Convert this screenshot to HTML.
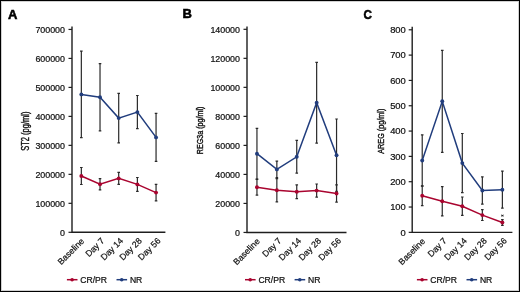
<!DOCTYPE html>
<html><head><meta charset="utf-8"><style>
html,body{margin:0;padding:0;background:#fff;}
body{width:520px;height:292px;overflow:hidden;}
svg{display:block;font-family:"Liberation Sans", sans-serif;will-change:transform;}
.t{fill:#111;stroke:#111;stroke-width:0.22px;}
</style></head><body>
<svg width="520" height="292" viewBox="0 0 520 292">
<rect x="0" y="0" width="520" height="292" fill="#fff"/>
<text x="7.9" y="18.6" font-size="13.0" font-weight="bold" fill="#000" stroke="#000" stroke-width="0.55">A</text>
<path d="M72 26.5V232.3H165.4" fill="none" stroke="#1e1e1e" stroke-width="1.4"/>
<path d="M68.5 232.3H72" stroke="#1e1e1e" stroke-width="1.2"/>
<text x="65" y="235.65" font-size="8.9" text-anchor="end" class="t">0</text>
<path d="M68.5 203.32H72" stroke="#1e1e1e" stroke-width="1.2"/>
<text x="65" y="206.67" font-size="8.9" text-anchor="end" class="t">100000</text>
<path d="M68.5 174.34H72" stroke="#1e1e1e" stroke-width="1.2"/>
<text x="65" y="177.69" font-size="8.9" text-anchor="end" class="t">200000</text>
<path d="M68.5 145.36H72" stroke="#1e1e1e" stroke-width="1.2"/>
<text x="65" y="148.71" font-size="8.9" text-anchor="end" class="t">300000</text>
<path d="M68.5 116.38H72" stroke="#1e1e1e" stroke-width="1.2"/>
<text x="65" y="119.73" font-size="8.9" text-anchor="end" class="t">400000</text>
<path d="M68.5 87.4H72" stroke="#1e1e1e" stroke-width="1.2"/>
<text x="65" y="90.75" font-size="8.9" text-anchor="end" class="t">500000</text>
<path d="M68.5 58.42H72" stroke="#1e1e1e" stroke-width="1.2"/>
<text x="65" y="61.77" font-size="8.9" text-anchor="end" class="t">600000</text>
<path d="M68.5 29.44H72" stroke="#1e1e1e" stroke-width="1.2"/>
<text x="65" y="32.79" font-size="8.9" text-anchor="end" class="t">700000</text>
<text transform="translate(29,150.8) rotate(-90)" font-size="10.0" font-weight="normal" stroke="#111" stroke-width="0.38" fill="#111" textLength="39.2" lengthAdjust="spacingAndGlyphs">ST2 (pg/ml)</text>
<text transform="translate(84.74,241.78) rotate(-45)" font-size="8.7" text-anchor="end" class="t">Baseline</text>
<text transform="translate(105.02,241.3) rotate(-45)" font-size="8.7" text-anchor="end" class="t">Day 7</text>
<text transform="translate(123.7,241.3) rotate(-45)" font-size="8.7" text-anchor="end" class="t">Day 14</text>
<text transform="translate(142.38,241.3) rotate(-45)" font-size="8.7" text-anchor="end" class="t">Day 28</text>
<text transform="translate(161.06,241.3) rotate(-45)" font-size="8.7" text-anchor="end" class="t">Day 56</text>
<path d="M81.34 51.1V137.7M80.04 51.1H82.64M80.04 137.7H82.64" stroke="#2a2a2a" stroke-width="1.2" fill="none"/>
<path d="M100.02 63.6V130.8M98.72 63.6H101.32M98.72 130.8H101.32" stroke="#2a2a2a" stroke-width="1.2" fill="none"/>
<path d="M118.7 93.4V142.8M117.4 93.4H120M117.4 142.8H120" stroke="#2a2a2a" stroke-width="1.2" fill="none"/>
<path d="M137.38 95.5V128.7M136.08 95.5H138.68M136.08 128.7H138.68" stroke="#2a2a2a" stroke-width="1.2" fill="none"/>
<path d="M156.06 113.4V161.4M154.76 113.4H157.36M154.76 161.4H157.36" stroke="#2a2a2a" stroke-width="1.2" fill="none"/>
<path d="M81.34 167.5V184.5M80.04 167.5H82.64M80.04 184.5H82.64" stroke="#2a2a2a" stroke-width="1.2" fill="none"/>
<path d="M100.02 178.7V189.9M98.72 178.7H101.32M98.72 189.9H101.32" stroke="#2a2a2a" stroke-width="1.2" fill="none"/>
<path d="M118.7 172.4V184.4M117.4 172.4H120M117.4 184.4H120" stroke="#2a2a2a" stroke-width="1.2" fill="none"/>
<path d="M137.38 177.5V191.3M136.08 177.5H138.68M136.08 191.3H138.68" stroke="#2a2a2a" stroke-width="1.2" fill="none"/>
<path d="M156.06 184.3V200.9M154.76 184.3H157.36M154.76 200.9H157.36" stroke="#2a2a2a" stroke-width="1.2" fill="none"/>
<polyline points="81.34,94.4 100.02,97.2 118.7,118.1 137.38,112.1 156.06,137.4" fill="none" stroke="#213d7d" stroke-width="1.5"/>
<circle cx="81.34" cy="94.4" r="1.95" fill="#213d7d"/>
<circle cx="100.02" cy="97.2" r="1.95" fill="#213d7d"/>
<circle cx="118.7" cy="118.1" r="1.95" fill="#213d7d"/>
<circle cx="137.38" cy="112.1" r="1.95" fill="#213d7d"/>
<circle cx="156.06" cy="137.4" r="1.95" fill="#213d7d"/>
<polyline points="81.34,176 100.02,184.3 118.7,178.4 137.38,184.4 156.06,192.6" fill="none" stroke="#a9042f" stroke-width="1.5"/>
<circle cx="81.34" cy="176" r="1.95" fill="#a9042f"/>
<circle cx="100.02" cy="184.3" r="1.95" fill="#a9042f"/>
<circle cx="118.7" cy="178.4" r="1.95" fill="#a9042f"/>
<circle cx="137.38" cy="184.4" r="1.95" fill="#a9042f"/>
<circle cx="156.06" cy="192.6" r="1.95" fill="#a9042f"/>
<path d="M66.9 279.7H77.5" stroke="#a9042f" stroke-width="1.5"/><circle cx="72.1" cy="279.7" r="1.8" fill="#a9042f"/>
<text x="80.3" y="282.9" font-size="8.6" class="t">CR/PR</text>
<path d="M116.5 279.7H127.1" stroke="#213d7d" stroke-width="1.5"/><circle cx="121.7" cy="279.7" r="1.8" fill="#213d7d"/>
<text x="129.9" y="282.9" font-size="8.6" class="t">NR</text>
<text x="182.4" y="18.3" font-size="13.0" font-weight="bold" fill="#000" stroke="#000" stroke-width="0.55">B</text>
<path d="M247 26.5V232.45H346.5" fill="none" stroke="#1e1e1e" stroke-width="1.4"/>
<path d="M243.5 232.45H247" stroke="#1e1e1e" stroke-width="1.2"/>
<text x="240" y="235.8" font-size="8.9" text-anchor="end" class="t">0</text>
<path d="M243.5 203.43H247" stroke="#1e1e1e" stroke-width="1.2"/>
<text x="240" y="206.78" font-size="8.9" text-anchor="end" class="t">20000</text>
<path d="M243.5 174.41H247" stroke="#1e1e1e" stroke-width="1.2"/>
<text x="240" y="177.76" font-size="8.9" text-anchor="end" class="t">40000</text>
<path d="M243.5 145.39H247" stroke="#1e1e1e" stroke-width="1.2"/>
<text x="240" y="148.74" font-size="8.9" text-anchor="end" class="t">60000</text>
<path d="M243.5 116.37H247" stroke="#1e1e1e" stroke-width="1.2"/>
<text x="240" y="119.72" font-size="8.9" text-anchor="end" class="t">80000</text>
<path d="M243.5 87.35H247" stroke="#1e1e1e" stroke-width="1.2"/>
<text x="240" y="90.7" font-size="8.9" text-anchor="end" class="t">100000</text>
<path d="M243.5 58.33H247" stroke="#1e1e1e" stroke-width="1.2"/>
<text x="240" y="61.68" font-size="8.9" text-anchor="end" class="t">120000</text>
<path d="M243.5 29.31H247" stroke="#1e1e1e" stroke-width="1.2"/>
<text x="240" y="32.66" font-size="8.9" text-anchor="end" class="t">140000</text>
<text transform="translate(203,154.3) rotate(-90)" font-size="8.8" font-weight="normal" stroke="#111" stroke-width="0.38" fill="#111" textLength="47.8" lengthAdjust="spacingAndGlyphs">REG3a (pg/ml)</text>
<text transform="translate(260.35,241.93) rotate(-45)" font-size="8.7" text-anchor="end" class="t">Baseline</text>
<text transform="translate(281.85,241.45) rotate(-45)" font-size="8.7" text-anchor="end" class="t">Day 7</text>
<text transform="translate(301.75,241.45) rotate(-45)" font-size="8.7" text-anchor="end" class="t">Day 14</text>
<text transform="translate(321.65,241.45) rotate(-45)" font-size="8.7" text-anchor="end" class="t">Day 28</text>
<text transform="translate(341.55,241.45) rotate(-45)" font-size="8.7" text-anchor="end" class="t">Day 56</text>
<path d="M256.95 128.4V179M255.65 128.4H258.25M255.65 179H258.25" stroke="#2a2a2a" stroke-width="1.2" fill="none"/>
<path d="M276.85 161.1V177.7M275.55 161.1H278.15M275.55 177.7H278.15" stroke="#2a2a2a" stroke-width="1.2" fill="none"/>
<path d="M296.75 140.4V173.2M295.45 140.4H298.05M295.45 173.2H298.05" stroke="#2a2a2a" stroke-width="1.2" fill="none"/>
<path d="M316.65 62.3V143.1M315.35 62.3H317.95M315.35 143.1H317.95" stroke="#2a2a2a" stroke-width="1.2" fill="none"/>
<path d="M336.55 119V191.4M335.25 119H337.85M335.25 191.4H337.85" stroke="#2a2a2a" stroke-width="1.2" fill="none"/>
<path d="M256.95 179.3V195.1M255.65 179.3H258.25M255.65 195.1H258.25" stroke="#2a2a2a" stroke-width="1.2" fill="none"/>
<path d="M276.85 178.7V201.9M275.55 178.7H278.15M275.55 201.9H278.15" stroke="#2a2a2a" stroke-width="1.2" fill="none"/>
<path d="M296.75 184.9V198.7M295.45 184.9H298.05M295.45 198.7H298.05" stroke="#2a2a2a" stroke-width="1.2" fill="none"/>
<path d="M316.65 184V197.2M315.35 184H317.95M315.35 197.2H317.95" stroke="#2a2a2a" stroke-width="1.2" fill="none"/>
<path d="M336.55 184.8V202.2M335.25 184.8H337.85M335.25 202.2H337.85" stroke="#2a2a2a" stroke-width="1.2" fill="none"/>
<polyline points="256.95,153.7 276.85,169.4 296.75,156.8 316.65,102.7 336.55,155.2" fill="none" stroke="#213d7d" stroke-width="1.5"/>
<circle cx="256.95" cy="153.7" r="1.95" fill="#213d7d"/>
<circle cx="276.85" cy="169.4" r="1.95" fill="#213d7d"/>
<circle cx="296.75" cy="156.8" r="1.95" fill="#213d7d"/>
<circle cx="316.65" cy="102.7" r="1.95" fill="#213d7d"/>
<circle cx="336.55" cy="155.2" r="1.95" fill="#213d7d"/>
<polyline points="256.95,187.2 276.85,190.3 296.75,191.8 316.65,190.6 336.55,193.5" fill="none" stroke="#a9042f" stroke-width="1.5"/>
<circle cx="256.95" cy="187.2" r="1.95" fill="#a9042f"/>
<circle cx="276.85" cy="190.3" r="1.95" fill="#a9042f"/>
<circle cx="296.75" cy="191.8" r="1.95" fill="#a9042f"/>
<circle cx="316.65" cy="190.6" r="1.95" fill="#a9042f"/>
<circle cx="336.55" cy="193.5" r="1.95" fill="#a9042f"/>
<path d="M245 279.7H255.6" stroke="#a9042f" stroke-width="1.5"/><circle cx="250.2" cy="279.7" r="1.8" fill="#a9042f"/>
<text x="258.4" y="282.9" font-size="8.6" class="t">CR/PR</text>
<path d="M294.6 279.7H305.2" stroke="#213d7d" stroke-width="1.5"/><circle cx="299.8" cy="279.7" r="1.8" fill="#213d7d"/>
<text x="308" y="282.9" font-size="8.6" class="t">NR</text>
<text textLength="8.4" lengthAdjust="spacingAndGlyphs" x="363.4" y="18.5" font-size="13.0" font-weight="bold" fill="#000" stroke="#000" stroke-width="0.55">C</text>
<path d="M412.2 26.7V232.35H512.4" fill="none" stroke="#1e1e1e" stroke-width="1.4"/>
<path d="M408.7 232.35H412.2" stroke="#1e1e1e" stroke-width="1.2"/>
<text x="405.8" y="235.7" font-size="9.4" text-anchor="end" class="t">0</text>
<path d="M408.7 207.03H412.2" stroke="#1e1e1e" stroke-width="1.2"/>
<text x="405.8" y="210.38" font-size="9.4" text-anchor="end" class="t">100</text>
<path d="M408.7 181.71H412.2" stroke="#1e1e1e" stroke-width="1.2"/>
<text x="405.8" y="185.06" font-size="9.4" text-anchor="end" class="t">200</text>
<path d="M408.7 156.39H412.2" stroke="#1e1e1e" stroke-width="1.2"/>
<text x="405.8" y="159.74" font-size="9.4" text-anchor="end" class="t">300</text>
<path d="M408.7 131.07H412.2" stroke="#1e1e1e" stroke-width="1.2"/>
<text x="405.8" y="134.42" font-size="9.4" text-anchor="end" class="t">400</text>
<path d="M408.7 105.75H412.2" stroke="#1e1e1e" stroke-width="1.2"/>
<text x="405.8" y="109.1" font-size="9.4" text-anchor="end" class="t">500</text>
<path d="M408.7 80.43H412.2" stroke="#1e1e1e" stroke-width="1.2"/>
<text x="405.8" y="83.78" font-size="9.4" text-anchor="end" class="t">600</text>
<path d="M408.7 55.11H412.2" stroke="#1e1e1e" stroke-width="1.2"/>
<text x="405.8" y="58.46" font-size="9.4" text-anchor="end" class="t">700</text>
<path d="M408.7 29.79H412.2" stroke="#1e1e1e" stroke-width="1.2"/>
<text x="405.8" y="33.14" font-size="9.4" text-anchor="end" class="t">800</text>
<text transform="translate(383.7,153.8) rotate(-90)" font-size="9.6" font-weight="normal" stroke="#111" stroke-width="0.38" fill="#111" textLength="45.2" lengthAdjust="spacingAndGlyphs">AREG (pg/ml)</text>
<text transform="translate(425.62,241.83) rotate(-45)" font-size="8.7" text-anchor="end" class="t">Baseline</text>
<text transform="translate(447.26,241.35) rotate(-45)" font-size="8.7" text-anchor="end" class="t">Day 7</text>
<text transform="translate(467.3,241.35) rotate(-45)" font-size="8.7" text-anchor="end" class="t">Day 14</text>
<text transform="translate(487.34,241.35) rotate(-45)" font-size="8.7" text-anchor="end" class="t">Day 28</text>
<text transform="translate(507.38,241.35) rotate(-45)" font-size="8.7" text-anchor="end" class="t">Day 56</text>
<path d="M422.22 134.8V186.2M420.92 134.8H423.52M420.92 186.2H423.52" stroke="#2a2a2a" stroke-width="1.2" fill="none"/>
<path d="M442.26 50.3V152.3M440.96 50.3H443.56M440.96 152.3H443.56" stroke="#2a2a2a" stroke-width="1.2" fill="none"/>
<path d="M462.3 133.5V192.7M461 133.5H463.6M461 192.7H463.6" stroke="#2a2a2a" stroke-width="1.2" fill="none"/>
<path d="M482.34 176.9V204.1M481.04 176.9H483.64M481.04 204.1H483.64" stroke="#2a2a2a" stroke-width="1.2" fill="none"/>
<path d="M502.38 171.2V208.2M501.08 171.2H503.68M501.08 208.2H503.68" stroke="#2a2a2a" stroke-width="1.2" fill="none"/>
<path d="M422.22 185.9V205.7M420.92 185.9H423.52M420.92 205.7H423.52" stroke="#2a2a2a" stroke-width="1.2" fill="none"/>
<path d="M442.26 186.6V215.8M440.96 186.6H443.56M440.96 215.8H443.56" stroke="#2a2a2a" stroke-width="1.2" fill="none"/>
<path d="M462.3 197V215.4M461 197H463.6M461 215.4H463.6" stroke="#2a2a2a" stroke-width="1.2" fill="none"/>
<path d="M482.34 209.7V220.5M481.04 209.7H483.64M481.04 220.5H483.64" stroke="#2a2a2a" stroke-width="1.2" fill="none"/>
<path d="M502.38 219.6V225.4M501.08 219.6H503.68M501.08 225.4H503.68" stroke="#2a2a2a" stroke-width="1.2" fill="none"/>
<polyline points="422.22,160.5 442.26,101.3 462.3,163.1 482.34,190.5 502.38,189.7" fill="none" stroke="#213d7d" stroke-width="1.5"/>
<circle cx="422.22" cy="160.5" r="1.95" fill="#213d7d"/>
<circle cx="442.26" cy="101.3" r="1.95" fill="#213d7d"/>
<circle cx="462.3" cy="163.1" r="1.95" fill="#213d7d"/>
<circle cx="482.34" cy="190.5" r="1.95" fill="#213d7d"/>
<circle cx="502.38" cy="189.7" r="1.95" fill="#213d7d"/>
<polyline points="422.22,195.8 442.26,201.2 462.3,206.2 482.34,215.1 502.38,222.5" fill="none" stroke="#a9042f" stroke-width="1.5"/>
<circle cx="422.22" cy="195.8" r="1.95" fill="#a9042f"/>
<circle cx="442.26" cy="201.2" r="1.95" fill="#a9042f"/>
<circle cx="462.3" cy="206.2" r="1.95" fill="#a9042f"/>
<circle cx="482.34" cy="215.1" r="1.95" fill="#a9042f"/>
<circle cx="502.38" cy="222.5" r="1.95" fill="#a9042f"/>
<path d="M416.9 279.7H427.5" stroke="#a9042f" stroke-width="1.5"/><circle cx="422.1" cy="279.7" r="1.8" fill="#a9042f"/>
<text x="430.3" y="282.9" font-size="8.6" class="t">CR/PR</text>
<path d="M466.5 279.7H477.1" stroke="#213d7d" stroke-width="1.5"/><circle cx="471.7" cy="279.7" r="1.8" fill="#213d7d"/>
<text x="479.9" y="282.9" font-size="8.6" class="t">NR</text>
<path d="M501.2 215.6H503.6M501.6 214.6L503.2 216.6M503.2 214.6L501.6 216.6" stroke="#222" stroke-width="0.8"/>
<rect x="0.5" y="0.5" width="519" height="291" fill="none" stroke="#000" stroke-width="1"/>
<rect x="1.5" y="1.5" width="517" height="289" fill="none" stroke="#000" stroke-opacity="0.18" stroke-width="1"/>
</svg>
</body></html>
